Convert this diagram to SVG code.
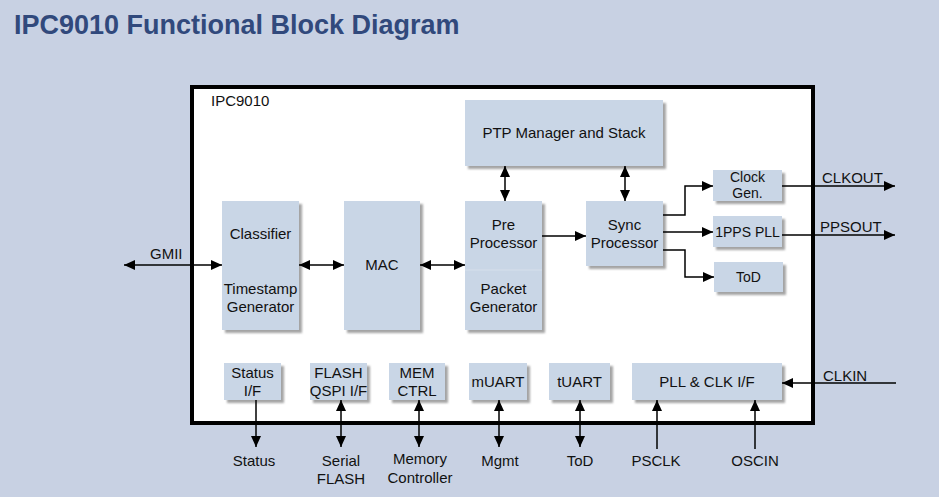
<svg xmlns="http://www.w3.org/2000/svg" width="939" height="497" viewBox="0 0 939 497">
<style>
text{font-family:"Liberation Sans",Arial,sans-serif;fill:#111;}
.t15{font-size:15px;text-anchor:middle;}
.t14{font-size:14px;text-anchor:middle;}
.lbl{font-size:15px;}
.box{fill:#c9d6e6;filter:url(#sh);}
.ln{stroke:#000;stroke-width:1.5;fill:none;}
.a1{marker-end:url(#ah);}
.a2{marker-start:url(#ahs);marker-end:url(#ah);}
</style>
<defs>
<filter id="sh" x="-10%" y="-10%" width="130%" height="130%">
<feDropShadow dx="3" dy="3" stdDeviation="0.8" flood-color="#7d7d7d" flood-opacity="0.7"/>
</filter>
<marker id="ah" markerUnits="userSpaceOnUse" markerWidth="12" markerHeight="10" refX="11" refY="5" orient="auto">
<path d="M0,0 L11,5 L0,10 Z" fill="#000"/>
</marker>
<marker id="ahs" markerUnits="userSpaceOnUse" markerWidth="12" markerHeight="10" refX="0" refY="5" orient="auto">
<path d="M11,0 L0,5 L11,10 Z" fill="#000"/>
</marker>
</defs>
<rect x="0" y="0" width="939" height="497" fill="#c8d1e3"/>
<text x="14" y="34" style="font-size:27px;font-weight:bold;fill:#31497c;">IPC9010 Functional Block Diagram</text>

<g id="chip">
<rect x="192" y="87" width="621" height="336" fill="#fff" stroke="#000" stroke-width="4"/>
<text x="211" y="106" style="font-size:15px;">IPC9010</text>
</g>

<g id="classifier">
<rect class="box" x="222" y="201" width="77" height="129"/>
<text class="t15" x="260.5" y="239">Classifier</text>
<text class="t15" x="260.5" y="294">Timestamp</text>
<text class="t15" x="260.5" y="312">Generator</text>
</g>
<g id="mac">
<rect class="box" x="344" y="201" width="76" height="129"/>
<text class="t15" x="382" y="270">MAC</text>
</g>
<g id="pre">
<rect class="box" x="465" y="201" width="77" height="129"/>
<line x1="465" y1="270" x2="542" y2="270" stroke="#d6dfeb" stroke-width="1"/>
<text class="t15" x="503.5" y="230">Pre</text>
<text class="t15" x="503.5" y="248">Processor</text>
<text class="t15" x="503.5" y="294">Packet</text>
<text class="t15" x="503.5" y="312">Generator</text>
</g>
<g id="ptp">
<rect class="box" x="465" y="100" width="198" height="66"/>
<text class="t15" x="564" y="138">PTP Manager and Stack</text>
</g>
<g id="sync">
<rect class="box" x="586" y="201" width="77" height="65"/>
<text class="t15" x="624.5" y="230">Sync</text>
<text class="t15" x="624.5" y="248">Processor</text>
</g>
<g id="clockgen">
<rect class="box" x="713" y="170" width="69" height="31"/>
<text class="t14" x="747.5" y="182">Clock</text>
<text class="t14" x="747.5" y="198">Gen.</text>
</g>
<g id="pll1pps">
<rect class="box" x="713" y="216" width="69" height="31"/>
<text class="t14" x="747.5" y="237">1PPS PLL</text>
</g>
<g id="tod">
<rect class="box" x="714" y="262" width="69" height="30"/>
<text class="t14" x="748.5" y="282">ToD</text>
</g>
<g id="statusif">
<rect class="box" x="224" y="363" width="57" height="37"/>
<text class="t15" x="252.5" y="378">Status</text>
<text class="t15" x="252.5" y="396">I/F</text>
</g>
<g id="flash">
<rect class="box" x="310" y="363" width="57" height="37"/>
<text class="t15" x="338.5" y="378">FLASH</text>
<text class="t15" x="338.5" y="396">QSPI I/F</text>
</g>
<g id="memctrl">
<rect class="box" x="389" y="363" width="56" height="37"/>
<text class="t15" x="417" y="378">MEM</text>
<text class="t15" x="417" y="396">CTRL</text>
</g>
<g id="muart">
<rect class="box" x="469" y="363" width="58" height="37"/>
<text class="t15" x="498" y="387">mUART</text>
</g>
<g id="tuart">
<rect class="box" x="549" y="363" width="61" height="37"/>
<text class="t15" x="579.5" y="387">tUART</text>
</g>
<g id="pllclk">
<rect class="box" x="632" y="363" width="150" height="37"/>
<text class="t15" x="707" y="387">PLL &amp; CLK I/F</text>
</g>

<g id="connectors">
<line class="ln a2" x1="124" y1="265" x2="222" y2="265"/>
<line class="ln a2" x1="299" y1="265" x2="344" y2="265"/>
<line class="ln a2" x1="420" y1="265" x2="465" y2="265"/>
<line class="ln a1" x1="542" y1="236" x2="586" y2="236"/>
<line class="ln a2" x1="505" y1="166" x2="505" y2="201"/>
<line class="ln a2" x1="625" y1="166" x2="625" y2="201"/>
<polyline class="ln a1" points="663,215 685,215 685,186 713,186"/>
<line class="ln a1" x1="663" y1="232" x2="713" y2="232"/>
<polyline class="ln a1" points="663,250 685,250 685,277 714,277"/>
<line class="ln a1" x1="782" y1="186" x2="895" y2="186"/>
<line class="ln a1" x1="782" y1="235" x2="895" y2="235"/>
<line class="ln a1" x1="896" y1="383" x2="782" y2="383"/>
<line class="ln a1" x1="256" y1="400" x2="256" y2="447"/>
<line class="ln a2" x1="341" y1="400" x2="341" y2="447"/>
<line class="ln a2" x1="419" y1="400" x2="419" y2="447"/>
<line class="ln a2" x1="499" y1="400" x2="499" y2="447"/>
<line class="ln a2" x1="580" y1="400" x2="580" y2="447"/>
<line class="ln a1" x1="657" y1="449" x2="657" y2="400"/>
<line class="ln a1" x1="755" y1="449" x2="755" y2="400"/>
</g>

<g id="labels">
<text class="lbl" x="150" y="259">GMII</text>
<text class="lbl" x="822" y="183">CLKOUT</text>
<text class="lbl" x="820" y="232">PPSOUT</text>
<text class="lbl" x="823" y="381">CLKIN</text>
<text class="t15" x="254" y="466">Status</text>
<text class="t15" x="341" y="466">Serial</text>
<text class="t15" x="341" y="484">FLASH</text>
<text class="t15" x="420" y="464">Memory</text>
<text class="t15" x="420" y="483">Controller</text>
<text class="t15" x="500" y="466">Mgmt</text>
<text class="t15" x="580" y="466">ToD</text>
<text class="t15" x="656" y="466">PSCLK</text>
<text class="t15" x="755" y="466">OSCIN</text>
</g>
</svg>
